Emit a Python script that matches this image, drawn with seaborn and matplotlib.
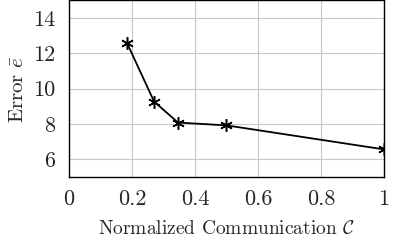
import matplotlib
matplotlib.use("Agg")
import matplotlib.pyplot as plt
import seaborn as sns
import pandas as pd

comm = [0.184, 0.27, 0.346, 0.50, 1.0]
err = [12.59, 9.27, 8.08, 7.92, 6.56]
xticks = [0, 0.2, 0.4, 0.6, 0.8, 1]
xticklabels = ["0", "0.2", "0.4", "0.6", "0.8", "1"]
yticks = [6, 8, 10, 12, 14]
yticklabels = ["6", "8", "10", "12", "14"]

sns.set_style("whitegrid")
plt.rcParams["font.family"] = ["serif"]
plt.rcParams["font.serif"] = ["cmr10", "DejaVu Serif"]
plt.rcParams["mathtext.fontset"] = "cm"
plt.rcParams["axes.formatter.use_mathtext"] = True

df = pd.DataFrame({"comm": comm, "err": err})

fig = plt.figure(figsize=(3.97, 2.41), dpi=100)
ax = fig.add_axes([0.174, 0.266, 0.793, 0.732])
sns.lineplot(data=df, x="comm", y="err", ax=ax, color="black", linewidth=1.3,
             marker=(6, 2, 0), markersize=9, markeredgewidth=1.1,
             markeredgecolor="black")
ax.set_xlim(0, 1)
ax.set_ylim(5, 15)
ax.set_xticks(xticks)
ax.set_xticklabels(xticklabels)
ax.set_yticks(yticks)
ax.set_yticklabels(yticklabels)
ax.tick_params(labelsize=16, length=0)
ax.tick_params(axis="x", pad=9)
ax.tick_params(axis="y", pad=10)
ax.grid(True, color="#c8c8c8", linewidth=0.8)
for s in ax.spines.values():
    s.set_color("black")
    s.set_linewidth(1.0)
ax.set_xlabel(r"Normalized Communication $\mathcal{C}$", fontsize=14, labelpad=8)
ax.set_ylabel(r"Error $\bar{e}$", fontsize=15, labelpad=4)
fig.savefig("out.png", dpi=100)
